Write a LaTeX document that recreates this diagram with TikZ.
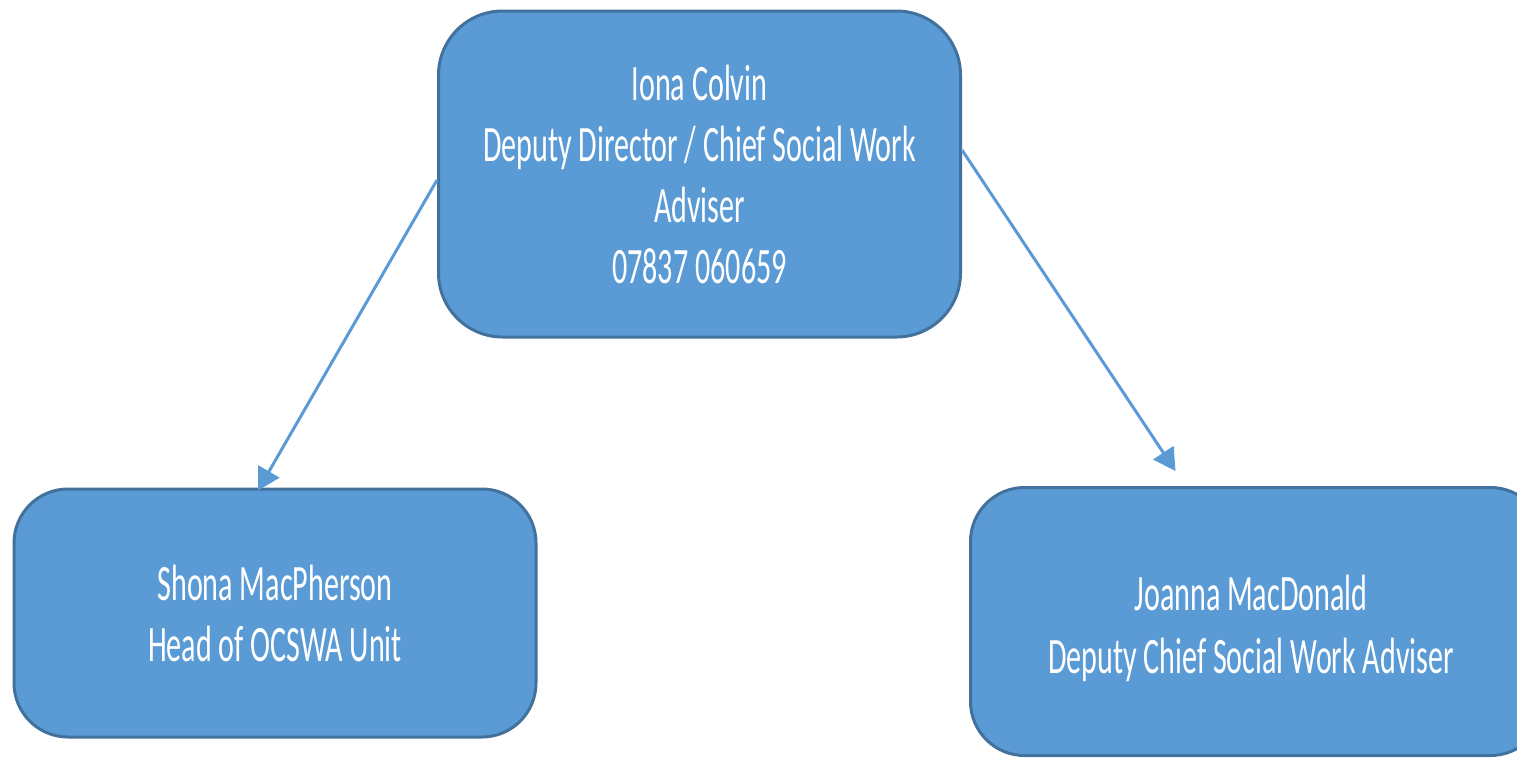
\documentclass[tikz,border=0pt]{standalone}
\usepackage{fontspec}
\newfontfamily\boxfont{Carlito}[FakeStretch=0.59]
\usetikzlibrary{arrows.meta,calc}
\definecolor{boxfill}{HTML}{5B9BD5}
\definecolor{boxline}{HTML}{41719C}
\tikzset{
  orgbox/.style={draw=boxline, fill=boxfill, line width=1.5pt, text=white,
    align=center, font=\boxfont\fontsize{25.5}{30.5}\selectfont, inner sep=0pt},
  boxtext/.style={text=white, align=center, font=\boxfont\fontsize{25.5}{31.5}\selectfont, inner sep=0pt},
  link/.style={draw=boxfill, line width=1.5pt, -{Triangle[length=11pt,width=12pt]}}
}
\begin{document}
\begin{tikzpicture}[x=0.5pt,y=-0.5pt]
\useasboundingbox (0,0) rectangle (1517,757);
\clip (0,0) rectangle (1517,757);
\node[orgbox, minimum width=261pt, minimum height=163pt, rounded corners=32pt] (top) at (699.5,174)
  {Iona Colvin\\Deputy Director / Chief Social Work\\Adviser\\07837 060659};
\node[orgbox, minimum width=261pt, minimum height=124pt, rounded corners=27pt] (left) at (275,613)
  {Shona MacPherson\\Head of OCSWA Unit};
\node[orgbox, minimum width=287pt, minimum height=134pt, rounded corners=27pt] (right) at (1257.5,621.5) {};
\node[boxtext] (righttext) at (1251,628)
  {Joanna MacDonald\\Deputy Chief Social Work Adviser};
\path[link] ($(top.west)+(0,6)$) -- ($(left.north)+(-17,3)$);
\path[link] ($(top.east)+(0,-24)$) -- ($(right.north)+(-82,-15)$);
\end{tikzpicture}
\end{document}
